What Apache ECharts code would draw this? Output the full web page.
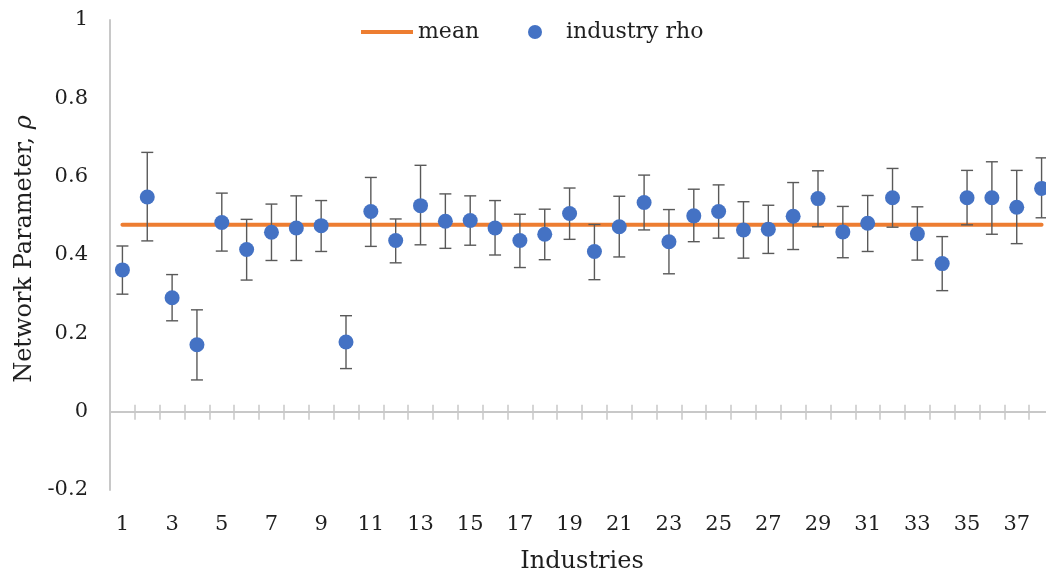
<!DOCTYPE html>
<html>
<head>
<meta charset="utf-8">
<script src="https://cdn.jsdelivr.net/npm/echarts@6/dist/echarts.min.js"></script>
<style>
  html, body { margin: 0; padding: 0; background: #fff; overflow: hidden; }
  #chart { width: 1046px; height: 573px; }
</style>
</head>
<body>
<div id="chart"></div>
<script>
// Industry index 1..38
const industries = Array.from({ length: 38 }, (_, i) => String(i + 1));

// Estimated network parameter rho per industry
const rho = [
  0.362, 0.548, 0.291, 0.171, 0.483, 0.414, 0.458, 0.469, 0.475, 0.178,
  0.511, 0.437, 0.526, 0.486, 0.488, 0.469, 0.437, 0.453, 0.506, 0.409,
  0.472, 0.534, 0.434, 0.500, 0.511, 0.464, 0.466, 0.499, 0.544, 0.459,
  0.481, 0.546, 0.454, 0.378, 0.546, 0.546, 0.522, 0.570
];

// Lower and upper ends of the error bars
const rhoLow = [
  0.300, 0.436, 0.232, 0.081, 0.410, 0.336, 0.386, 0.386, 0.409, 0.110,
  0.422, 0.380, 0.426, 0.417, 0.425, 0.400, 0.368, 0.388, 0.440, 0.337,
  0.395, 0.464, 0.352, 0.434, 0.443, 0.392, 0.404, 0.414, 0.472, 0.393,
  0.409, 0.471, 0.387, 0.309, 0.477, 0.453, 0.429, 0.495
];
const rhoHigh = [
  0.423, 0.662, 0.350, 0.260, 0.558, 0.491, 0.530, 0.551, 0.539, 0.245,
  0.598, 0.492, 0.629, 0.556, 0.551, 0.539, 0.504, 0.517, 0.571, 0.478,
  0.550, 0.604, 0.516, 0.568, 0.579, 0.536, 0.527, 0.585, 0.615, 0.524,
  0.552, 0.621, 0.523, 0.447, 0.616, 0.638, 0.616, 0.648
];

// Mean of rho across industries
const meanRho = 0.477;

const yTicks = { min: -0.2, max: 1, interval: 0.2 };

const FONT = 'DejaVu Serif';
const TEXT = '#1f1f1f';
const AXIS_GRAY = '#c8c8c8';
const ORANGE = '#ED7D31';
const BLUE = '#4472C4';

// Plot area geometry
const GRID = { left: 110, top: 20, width: 944, height: 470 };
// Pixel distance of the zero line above the bottom of the plot area
const zeroLift = GRID.height * (0 - yTicks.min) / (yTicks.max - yTicks.min);

const chart = echarts.init(document.getElementById('chart'), null, { renderer: 'canvas' });

const errorData = industries.map((c, i) => [i, rhoLow[i], rhoHigh[i]]);

const legendText = { fontFamily: FONT, fontSize: 22, color: TEXT };

chart.setOption({
  animation: false,
  backgroundColor: '#ffffff',
  textStyle: { fontFamily: FONT, color: TEXT },
  legend: [
    {
      left: 356,
      top: 16,
      itemWidth: 52,
      itemHeight: 14,
      itemGap: 6,
      textStyle: legendText,
      data: [{ name: 'mean', icon: 'path://M0,0 L52,0 L52,4 L0,4 Z', itemStyle: { color: ORANGE } }]
    },
    {
      left: 523,
      top: 16,
      itemWidth: 14,
      itemHeight: 14,
      textStyle: Object.assign({ padding: [0, 0, 0, 19] }, legendText),
      data: [{ name: 'industry rho', icon: 'circle', itemStyle: { color: BLUE } }]
    }
  ],
  grid: {
    left: GRID.left, top: GRID.top, width: GRID.width, height: GRID.height,
    containLabel: false, outerBoundsMode: 'none'
  },
  xAxis: [
    {
      type: 'category',
      data: industries,
      position: 'bottom',
      axisLine: { show: false, onZero: false },
      axisTick: { show: false },
      axisLabel: { interval: 1, fontFamily: FONT, fontSize: 21, color: TEXT, margin: 24 },
      name: 'Industries',
      nameLocation: 'middle',
      nameGap: 60,
      nameTextStyle: { fontFamily: FONT, fontSize: 24, color: TEXT }
    },
    {
      // horizontal line through zero with ticks hanging below it
      type: 'category',
      data: industries,
      position: 'bottom',
      axisLine: { show: true, onZero: true, lineStyle: { color: AXIS_GRAY, width: 2 } },
      axisTick: { show: true, inside: false, length: 8, interval: 0, lineStyle: { color: AXIS_GRAY, width: 1.5 } },
      axisLabel: { show: false }
    },
    {
      // upper half of the crossing ticks on the zero line
      type: 'category',
      data: industries,
      position: 'bottom',
      offset: -zeroLift,
      axisLine: { show: false, onZero: false },
      axisTick: { show: true, inside: true, length: 7, interval: 0, lineStyle: { color: AXIS_GRAY, width: 1.5 } },
      axisLabel: { show: false }
    }
  ],
  yAxis: {
    type: 'value',
    min: yTicks.min,
    max: yTicks.max,
    interval: yTicks.interval,
    axisLine: { show: true, onZero: false, lineStyle: { color: AXIS_GRAY, width: 2 } },
    axisTick: { show: false },
    splitLine: { show: false },
    axisLabel: {
      fontFamily: FONT, fontSize: 21, color: TEXT, margin: 22,
      formatter: v => String(Math.round(v * 10) / 10)
    },
    name: '{n|Network Parameter, }{i|ρ}',
    nameLocation: 'middle',
    nameGap: 69,
    nameRotate: 90,
    nameTextStyle: {
      padding: [0, 0, 0, 12],
      rich: {
        n: { fontFamily: FONT, fontSize: 24, color: TEXT },
        i: { fontFamily: FONT, fontSize: 24, color: TEXT, fontStyle: 'italic' }
      }
    }
  },
  series: [
    {
      name: 'mean',
      type: 'line',
      xAxisIndex: 0,
      data: industries.map(() => meanRho),
      symbol: 'none',
      lineStyle: { color: ORANGE, width: 4, cap: 'round' },
      itemStyle: { color: ORANGE },
      z: 2
    },
    {
      name: 'error',
      type: 'custom',
      xAxisIndex: 0,
      data: errorData,
      encode: { x: 0, y: [1, 2] },
      renderItem: (params, api) => {
        const idx = api.value(0);
        const lo = api.coord([idx, api.value(1)]);
        const hi = api.coord([idx, api.value(2)]);
        const half = 6;
        const style = { stroke: '#595959', lineWidth: 1.4, fill: null };
        return {
          type: 'group',
          children: [
            { type: 'line', shape: { x1: lo[0], y1: lo[1], x2: hi[0], y2: hi[1] }, style },
            { type: 'line', shape: { x1: hi[0] - half, y1: hi[1], x2: hi[0] + half, y2: hi[1] }, style },
            { type: 'line', shape: { x1: lo[0] - half, y1: lo[1], x2: lo[0] + half, y2: lo[1] }, style }
          ]
        };
      },
      z: 3
    },
    {
      name: 'industry rho',
      type: 'scatter',
      xAxisIndex: 0,
      data: rho,
      symbol: 'circle',
      symbolSize: 15,
      itemStyle: { color: BLUE, opacity: 1 },
      z: 4
    }
  ]
});
</script>
</body>
</html>
